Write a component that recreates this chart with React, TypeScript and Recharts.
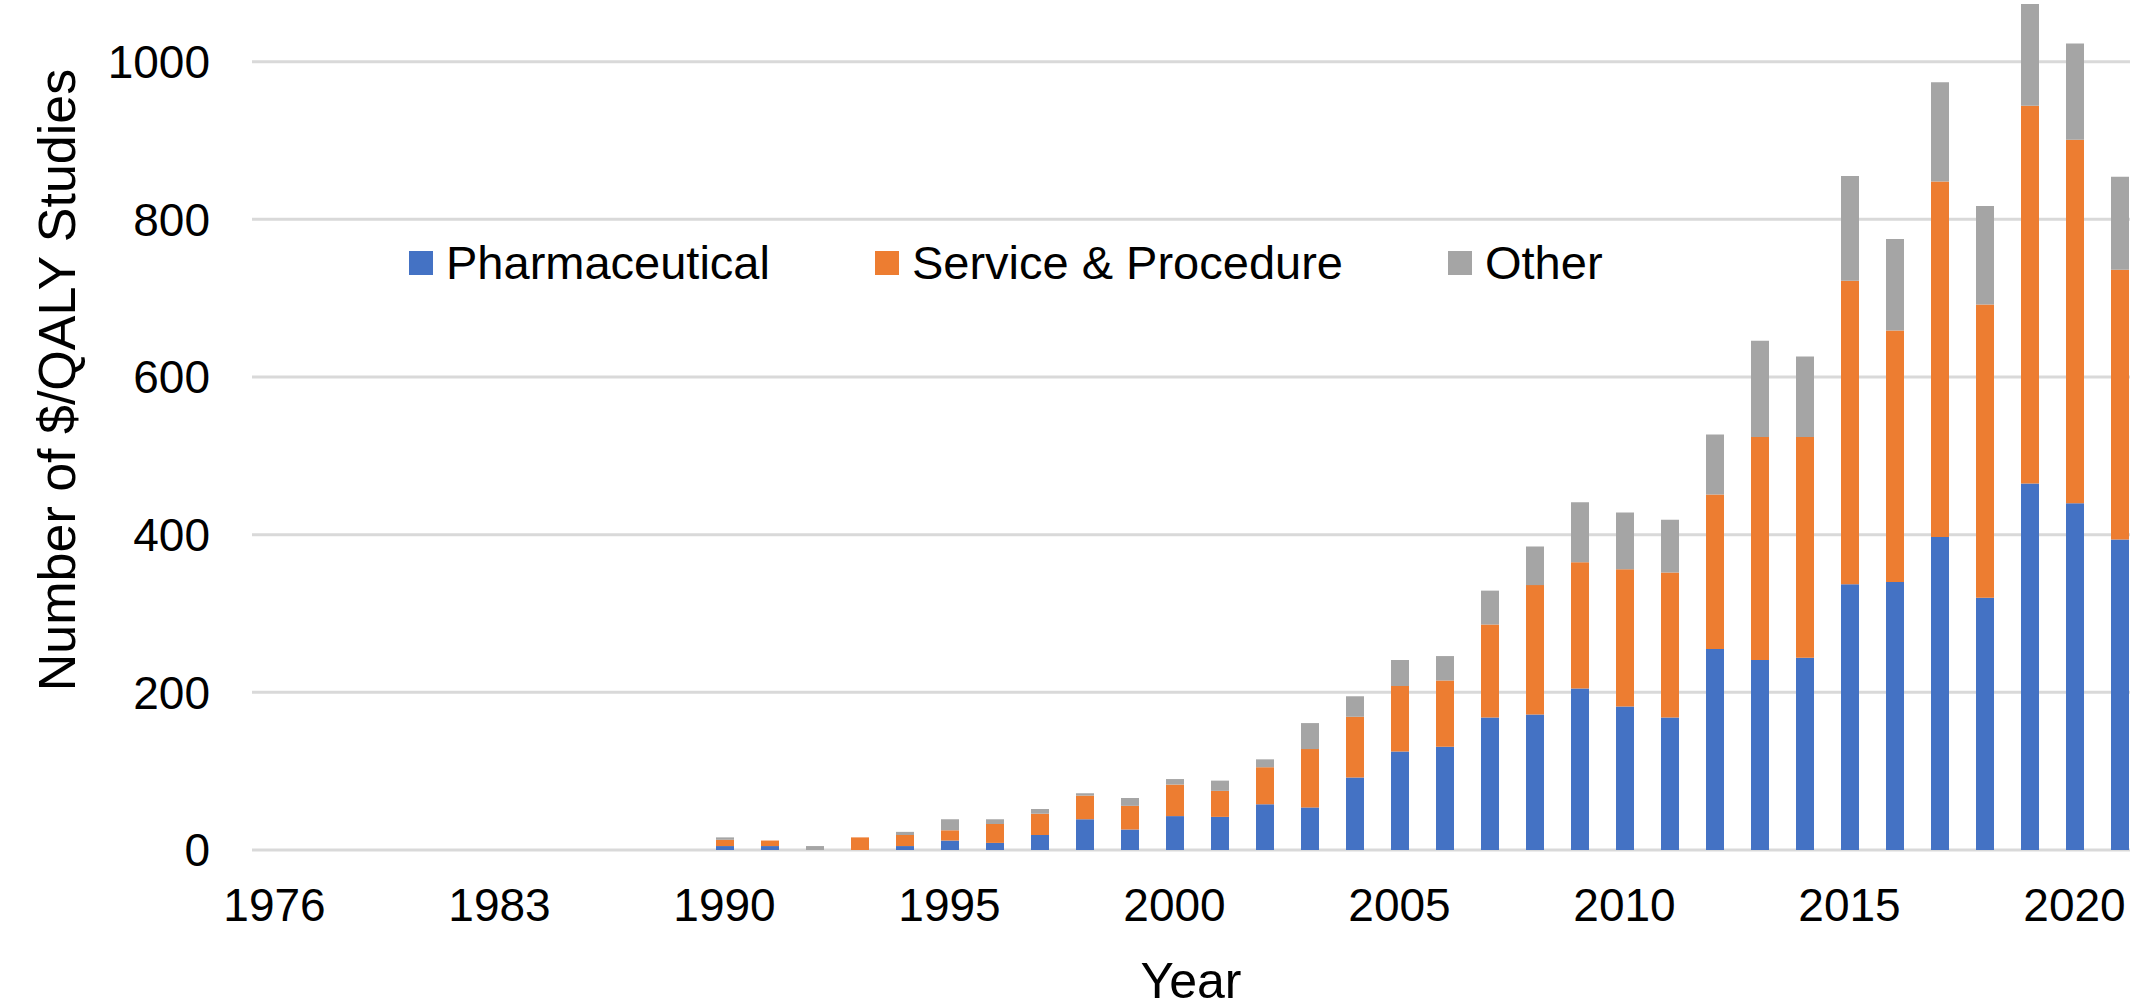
import React from "react";
import { BarChart, Bar, XAxis, YAxis, CartesianGrid, Legend, Label } from "recharts";

const years = [
  "1976", "1978", "1979", "1980", "1981", "1983", "1985", "1986", "1987", "1988",
  "1990", "1991", "1992", "1993", "1994", "1995", "1996", "1997", "1998", "1999",
  "2000", "2001", "2002", "2003", "2004", "2005", "2006", "2007", "2008", "2009",
  "2010", "2011", "2012", "2013", "2014", "2015", "2016", "2017", "2018", "2019",
  "2020", "2021",
];

const pharmaceutical = [
  0, 0, 0, 0, 0, 0, 0, 0, 0, 0,
  5, 5, 0, 0, 5, 12, 9, 19, 39, 26,
  43, 42, 58, 54, 92, 125, 131, 168, 172, 205,
  182, 168, 255, 241, 244, 337, 340, 397, 320, 465,
  440, 394,
];

const serviceProcedure = [
  0, 0, 0, 0, 0, 0, 0, 0, 0, 0,
  8, 7, 0, 16, 14, 13, 24, 27, 30, 30,
  40, 33, 47, 74, 77, 83, 84, 118, 164, 160,
  174, 184, 196, 283, 280, 385, 319, 451, 372, 479,
  461, 342,
];

const other = [
  0, 0, 0, 0, 0, 0, 0, 0, 0, 0,
  3, 0, 5, 0, 4, 14, 6, 6, 3, 10,
  7, 13, 10, 33, 26, 33, 31, 43, 49, 76,
  72, 67, 76, 122, 102, 133, 116, 126, 125, 129,
  122, 118,
];

// the axis runs to 1200, but the top of the chart is cropped off in the picture
const yTicks = [0, 200, 400, 600, 800, 1000];

const seriesNames = ["Pharmaceutical", "Service & Procedure", "Other"];

const data = years.map((year, i) => ({
  year,
  pharmaceutical: pharmaceutical[i],
  service: serviceProcedure[i],
  other: other[i],
}));

const FONT = "'Liberation Sans', Arial, sans-serif";

const YTitle = (props: any) => {
  const { viewBox } = props;
  const cx = 57;
  const cy = viewBox.y + viewBox.height / 2 + 3;
  return (
    <text
      x={cx}
      y={cy}
      transform={`rotate(-90 ${cx} ${cy})`}
      textAnchor="middle"
      dominantBaseline="central"
      fontFamily={FONT}
      fontSize={52}
      fill="#000"
    >
      Number of $/QALY Studies
    </text>
  );
};

const XTitle = (props: any) => {
  const { viewBox } = props;
  return (
    <text
      x={viewBox.x + viewBox.width / 2 - 6}
      y={1108}
      textAnchor="middle"
      fontFamily={FONT}
      fontSize={50}
      fill="#000"
    >
      Year
    </text>
  );
};

const renderLegend = (props: any) => {
  const items = [...(props.payload || [])].sort(
    (a: any, b: any) => seriesNames.indexOf(a.value) - seriesNames.indexOf(b.value)
  );
  return (
    <div style={{ display: "flex", alignItems: "center", gap: 105, fontFamily: FONT, fontSize: 47, lineHeight: "54px", color: "#000", whiteSpace: "nowrap" }}>
      {items.map((it: any) => (
        <div key={it.value} style={{ display: "flex", alignItems: "center" }}>
          <span style={{ display: "inline-block", width: 24, height: 24, background: it.color, marginRight: 13 }} />
          <span>{it.value}</span>
        </div>
      ))}
    </div>
  );
};

export default function App() {
  return (
    <div style={{ position: "fixed", left: 0, top: 0, width: 2130, height: 1008, overflow: "hidden", background: "#fff" }}>
      <div style={{ position: "absolute", left: 0, top: -110 }}>
        <BarChart
          width={2180}
          height={1130}
          data={data}
          margin={{ top: 14, right: 38, left: 0, bottom: 0 }}
          barSize={18}
        >
          <CartesianGrid vertical={false} stroke="#d9d9d9" strokeWidth={3} />
          <XAxis
            dataKey="year"
            interval={4}
            height={170}
            tickLine={false}
            axisLine={false}
            tickSize={0}
            tickMargin={38}
            tick={{ fontFamily: FONT, fontSize: 46, fill: "#000" }}
          >
            <Label content={XTitle} />
          </XAxis>
          <YAxis
            domain={[0, 1200]}
            ticks={yTicks}
            width={252}
            tickLine={false}
            axisLine={false}
            tickSize={0}
            tickMargin={42}
            tick={{ fontFamily: FONT, fontSize: 46, fill: "#000" }}
          >
            <Label content={YTitle} />
          </YAxis>
          <Legend
            layout="horizontal"
            verticalAlign="middle"
            align="center"
            content={renderLegend}
            wrapperStyle={{ left: 409, top: 346, width: "auto" }}
          />
          <Bar dataKey="pharmaceutical" name="Pharmaceutical" stackId="a" fill="#4472C4" isAnimationActive={false} />
          <Bar dataKey="service" name="Service & Procedure" stackId="a" fill="#ED7D31" isAnimationActive={false} />
          <Bar dataKey="other" name="Other" stackId="a" fill="#A5A5A5" isAnimationActive={false} />
        </BarChart>
      </div>
    </div>
  );
}
